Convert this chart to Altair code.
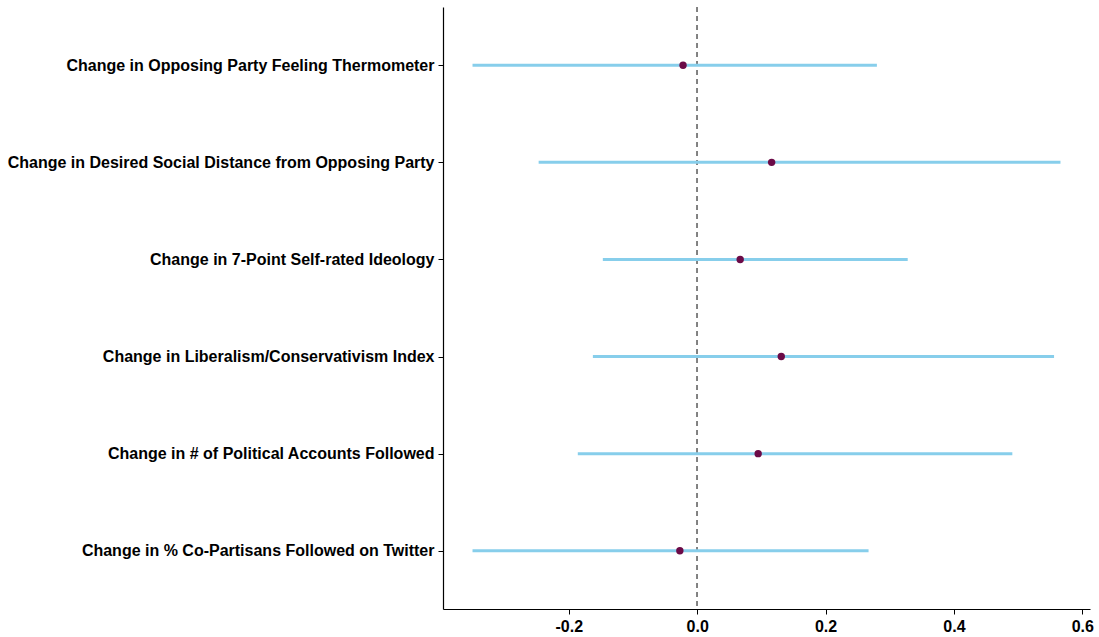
import altair as alt
import pandas as pd

outcomes = [
    "Change in Opposing Party Feeling Thermometer",
    "Change in Desired Social Distance from Opposing Party",
    "Change in 7-Point Self-rated Ideology",
    "Change in Liberalism/Conservativism Index",
    "Change in # of Political Accounts Followed",
    "Change in % Co-Partisans Followed on Twitter",
]
estimates = [-0.022, 0.116, 0.067, 0.131, 0.095, -0.027]
lower = [-0.350, -0.247, -0.147, -0.1625, -0.186, -0.350]
upper = [0.280, 0.566, 0.328, 0.556, 0.491, 0.267]
x_ticks = [-0.2, 0.0, 0.2, 0.4, 0.6]

df = pd.DataFrame({"outcome": outcomes, "est": estimates, "lo": lower, "hi": upper})

xscale = alt.Scale(domain=[-0.396, 0.612], nice=False, zero=False)
yscale = alt.Scale(type="point", domain=outcomes, padding=0.6)

xaxis = alt.Axis(values=x_ticks, title=None, grid=False,
                 labelExpr="replace(format(datum.value, '.1f'), '\u2212', '-')",
                 labelFont="Liberation Sans", labelFontWeight="bold", labelFontSize=16,
                 labelColor="black", domainColor="black", tickColor="black",
                 tickSize=5, labelPadding=4, domainWidth=1.2)
yaxis = alt.Axis(title=None, grid=False, labelFont="Liberation Sans",
                 labelFontWeight="bold", labelFontSize=16, labelColor="black",
                 domainColor="black", tickColor="black", tickSize=5,
                 labelPadding=4, labelLimit=600, domainWidth=1.2)

zero = alt.Chart(df).mark_rule(color="#808080", strokeDash=[5, 4], strokeWidth=1.2).encode(
    x=alt.datum(0, scale=xscale, axis=xaxis)
)

bars = alt.Chart(df).mark_rule(color="#87CEEB", strokeWidth=3).encode(
    x=alt.X("lo:Q", scale=xscale, axis=xaxis),
    x2="hi:Q",
    y=alt.Y("outcome:N", scale=yscale, axis=yaxis, sort=outcomes),
)

pts = alt.Chart(df).mark_circle(color="#6B0A47", opacity=1, size=55).encode(
    x=alt.X("est:Q", scale=xscale, axis=xaxis),
    y=alt.Y("outcome:N", scale=yscale, axis=yaxis, sort=outcomes),
)

chart = (zero + bars + pts).properties(
    width=647, height=602,
    background="white",
    autosize=alt.AutoSizeParams(type="none"),
    padding={"left": 443, "top": 7, "right": 9, "bottom": 28},
).configure_view(strokeWidth=0, stroke=None)

chart.save("out.html", embed_options={"renderer": "svg", "actions": False})
